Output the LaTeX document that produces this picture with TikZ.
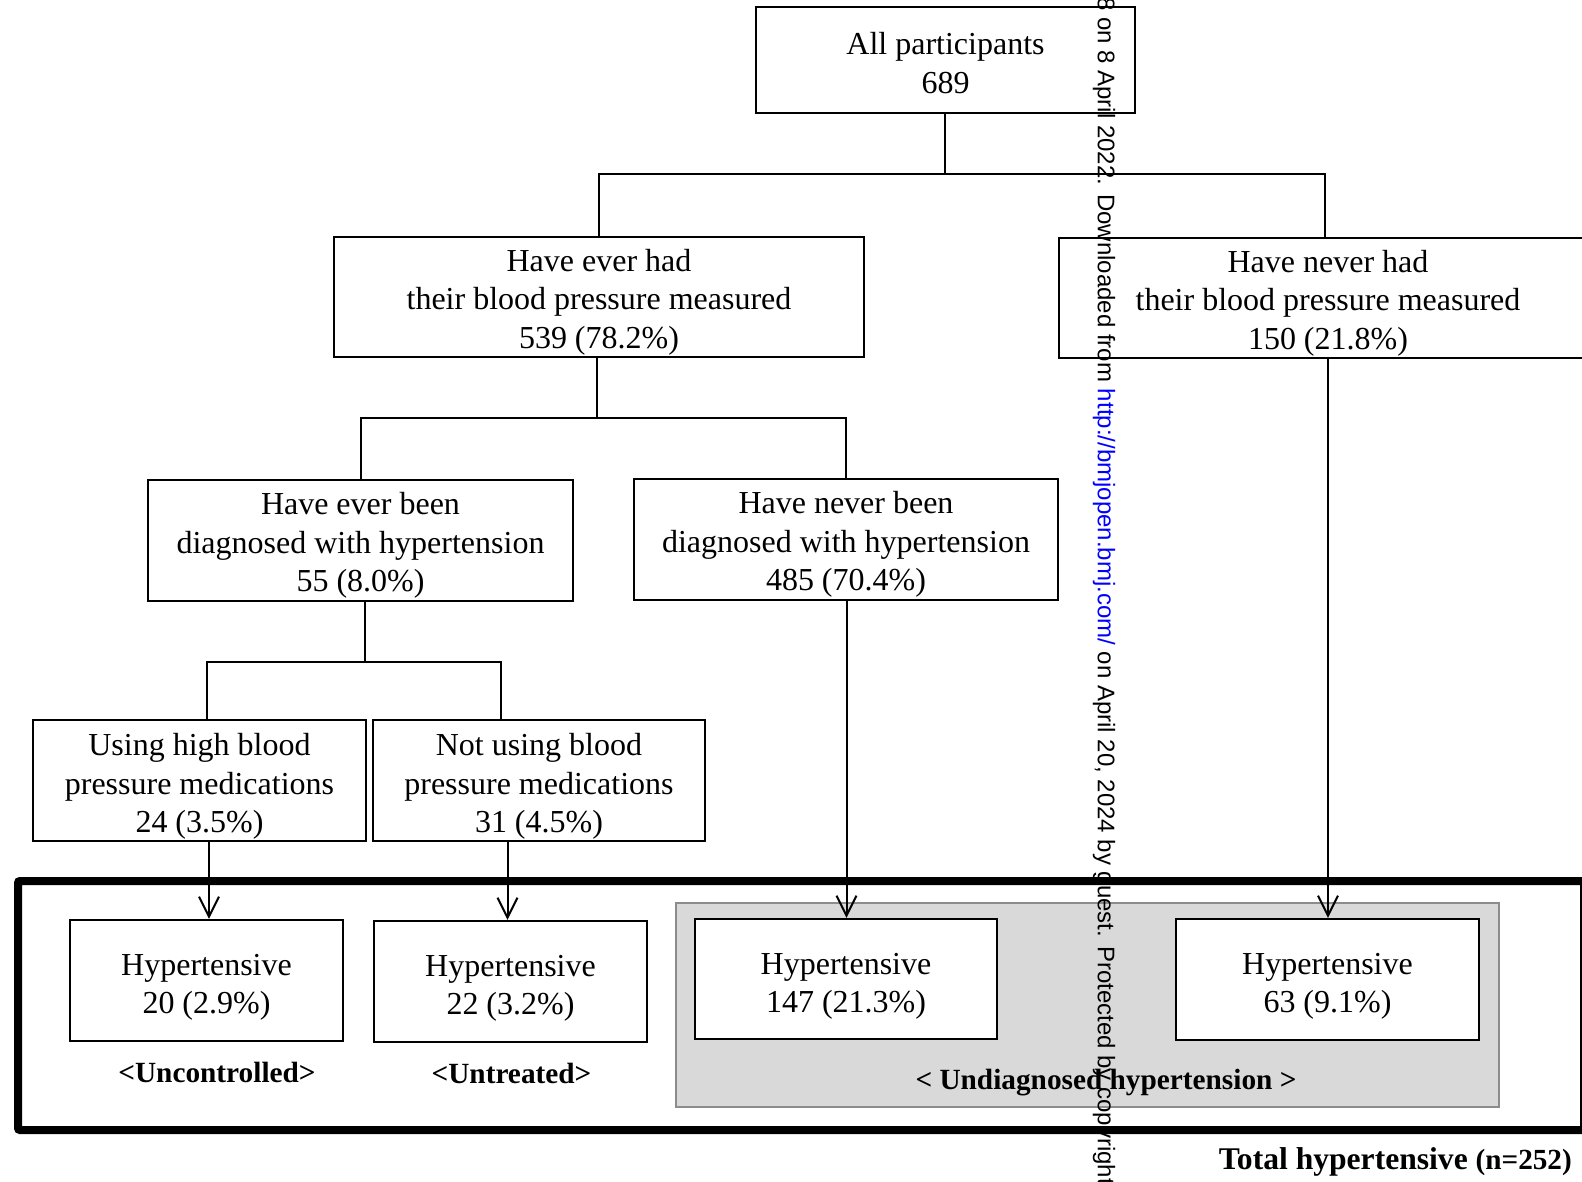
\documentclass[tikz,border=0pt]{standalone}
\usepackage{fontspec}
\setmainfont{Liberation Serif}
\newfontfamily\wmfont{Liberation Sans}
\usetikzlibrary{arrows.meta}
\definecolor{grayfill}{HTML}{D9D9D9}
\definecolor{grayline}{HTML}{8C8C8C}
\begin{document}
\begin{tikzpicture}[x=1pt,y=-1pt,
  box/.style={draw, line width=2.2pt, fill=white, inner sep=0pt},
  txt/.style={align=center, inner sep=0pt, font=\fontsize{32}{38.3}\selectfont},
  conn/.style={line width=2pt},
  arr/.style={line width=2pt, -{Straight Barb[length=20pt,width=20pt]}},
  lab/.style={font=\fontsize{29.3}{34}\selectfont\bfseries, inner sep=0pt}]
\useasboundingbox (0,0) rectangle (1582,1181);
\clip (0,0) rectangle (1582,1181);

% background frames
\draw[line width=8pt, rounded corners=2pt] (18,881) rectangle (1584,1130);
\draw[fill=grayfill, draw=grayline, line width=2.5pt] (676,903) rectangle (1499,1107);

% boxes
\node[box, minimum width=379pt, minimum height=106pt] (all) at (945.5,60) {};
\node[box, minimum width=530pt, minimum height=120pt] (ever) at (599,297) {};
\node[box, minimum width=532pt, minimum height=120pt] (never) at (1325,298) {};
\node[box, minimum width=425pt, minimum height=121pt] (diag) at (360.5,540.5) {};
\node[box, minimum width=424pt, minimum height=121pt] (ndiag) at (846,539.5) {};
\node[box, minimum width=333pt, minimum height=121pt] (using) at (199.5,780.5) {};
\node[box, minimum width=332pt, minimum height=121pt] (notusing) at (539,780.5) {};
\node[box, minimum width=273pt, minimum height=121pt] (h1) at (206.5,980.5) {};
\node[box, minimum width=273pt, minimum height=121pt] (h2) at (510.5,981.5) {};
\node[box, minimum width=302pt, minimum height=120pt] (h3) at (846,979) {};
\node[box, minimum width=303pt, minimum height=121pt] (h4) at (1327.5,979.5) {};

% box texts
\node[txt] (allt) at ([yshift=-3pt]all.center) {All participants\\689};
\node[txt] (evert) at ([yshift=-5pt]ever.center) {Have ever had\\their blood pressure measured\\539 (78.2\%)};
\node[txt] (nevert) at ([xshift=3pt,yshift=-5pt]never.center) {Have never had\\their blood pressure measured\\150 (21.8\%)};
\node[txt] (diagt) at ([yshift=-5pt]diag.center) {Have ever been\\diagnosed with hypertension\\55 (8.0\%)};
\node[txt] (ndiagt) at ([yshift=-5pt]ndiag.center) {Have never been\\diagnosed with hypertension\\485 (70.4\%)};
\node[txt] (usingt) at ([yshift=-6pt]using.center) {Using high blood\\pressure medications\\24 (3.5\%)};
\node[txt] (notusingt) at ([yshift=-6pt]notusing.center) {Not using blood\\pressure medications\\31 (4.5\%)};
\node[txt] (h1t) at ([yshift=-7pt]h1.center) {Hypertensive\\20 (2.9\%)};
\node[txt] (h2t) at ([yshift=-7pt]h2.center) {Hypertensive\\22 (3.2\%)};
\node[txt] (h3t) at ([yshift=-7pt]h3.center) {Hypertensive\\147 (21.3\%)};
\node[txt] (h4t) at ([yshift=-7pt]h4.center) {Hypertensive\\63 (9.1\%)};

% connectors
\coordinate (j1) at (945,173.5);
\draw[conn] (all.south -| j1) -- (j1);
\draw[conn] (ever.north) |- (j1) -| (never.north);
\coordinate (j2) at (597,417.7);
\draw[conn] (ever.south -| j2) -- (j2);
\draw[conn] (diag.north) |- (j2) -| (ndiag.north);
\coordinate (j3) at (365,662);
\coordinate (j3a) at (207,662);
\coordinate (j3b) at (501,662);
\draw[conn] (diag.south -| j3) -- (j3);
\draw[conn] (using.north -| j3a) -- (j3a) -- (j3b) -- (notusing.north -| j3b);

\coordinate (a1) at (209,0);
\coordinate (a2) at (507.5,0);
\coordinate (a3) at (846.5,0);
\coordinate (a4) at (1328,0);
\draw[arr] (using.south -| a1) -- (h1.north -| a1);
\draw[arr] (notusing.south -| a2) -- (h2.north -| a2);
\draw[arr] (ndiag.south -| a3) -- (h3.north -| a3);
\draw[arr] (never.south -| a4) -- (h4.north -| a4);

% labels
\node[lab] (unc) at (217,1072.5) {<Uncontrolled>};
\node[lab] (unt) at (511.5,1073.5) {<Untreated>};
\node[lab] (und) at (1106,1082.5) {< Undiagnosed hypertension >};
\node[inner sep=0pt, anchor=east, font=\bfseries] (tot) at (1572,1162)
  {{\fontsize{31.6}{36}\selectfont Total hypertensive\ }{\fontsize{29.2}{34}\selectfont (n=252)}};

% watermark
\node[rotate=-90, anchor=west, inner sep=0pt, font=\wmfont\fontsize{24}{28}\selectfont] (wm) at (1104,-3)
  {8 on 8 April 2022. Downloaded from \textcolor{blue}{http://bmjopen.bmj.com/} on April 20, 2024 by guest. Protected by copyright.};
\end{tikzpicture}
\end{document}
